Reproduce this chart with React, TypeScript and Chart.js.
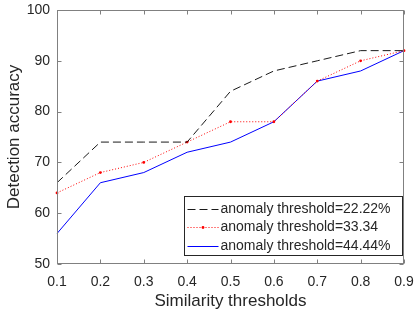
import React, { useEffect, useRef } from 'react';
import { Chart, registerables } from 'chart.js';

Chart.register(...registerables);

const categories = ['0.1', '0.2', '0.3', '0.4', '0.5', '0.6', '0.7', '0.8', '0.9'];
const seriesA = [66, 74, 74, 74, 84, 88, 90, 92, 92];
const seriesB = [64, 68, 70, 74, 78, 78, 86, 90, 92];
const seriesC = [56, 66, 68, 72, 74, 78, 86, 88, 92];
const seriesLabels = ['anomaly threshold=22.22%', 'anomaly threshold=33.34', 'anomaly threshold=44.44%'];
const yMin = 50;
const yMax = 100;
const yStep = 10;
const xTitle = 'Similarity thresholds';
const yTitle = 'Detection accuracy';

const FONT = "'Liberation Sans', Arial, Helvetica, sans-serif";
const TEXT = '#262626';
const FRAME = '#808080';

const framePlugin = {
  id: 'matlabFrame',
  afterDatasetsDraw(chart: any) {
    const { ctx, chartArea, scales } = chart;
    const L = Math.round(chartArea.left) + 0.5;
    const R = Math.round(chartArea.right) - 0.5;
    const T = Math.round(chartArea.top) + 0.5;
    const B = Math.round(chartArea.bottom) - 0.5;
    ctx.save();
    ctx.strokeStyle = FRAME;
    ctx.lineWidth = 1;
    ctx.strokeRect(L, T, R - L, B - T);
    const tl = 4;
    ctx.beginPath();
    scales.x.ticks.forEach((_t: any, i: number) => {
      const px = Math.round(scales.x.getPixelForTick(i)) + 0.5;
      ctx.moveTo(px, B);
      ctx.lineTo(px, B - tl);
      ctx.moveTo(px, T);
      ctx.lineTo(px, T + tl);
    });
    scales.y.ticks.forEach((t: any) => {
      const py = Math.round(scales.y.getPixelForValue(t.value)) + 0.5;
      ctx.moveTo(L, py);
      ctx.lineTo(L + tl, py);
      ctx.moveTo(R, py);
      ctx.lineTo(R - tl, py);
    });
    ctx.stroke();
    ctx.restore();
  },
};

const legendPlugin = {
  id: 'matlabLegend',
  afterDraw(chart: any) {
    const { ctx, chartArea } = chart;
    const w = 218;
    const h = 59;
    const right = Math.round(chartArea.right) - 1.5;
    const bottom = Math.round(chartArea.bottom) - 8.5;
    const left = right - w;
    const top = bottom - h;
    ctx.save();
    ctx.fillStyle = '#ffffff';
    ctx.fillRect(left, top, w, h);
    ctx.strokeStyle = '#262626';
    ctx.lineWidth = 1;
    ctx.strokeRect(left, top, w, h);
    chart.data.datasets.forEach((ds: any, i: number) => {
      const y = Math.round(top + 12 + i * 18.5) + 0.5;
      ctx.beginPath();
      ctx.strokeStyle = ds.borderColor;
      ctx.lineWidth = ds.borderWidth;
      ctx.setLineDash(ds.borderDash || []);
      ctx.moveTo(left + 3, y);
      ctx.lineTo(left + 34, y);
      ctx.stroke();
      ctx.setLineDash([]);
      if (ds.pointRadius > 0) {
        ctx.beginPath();
        ctx.fillStyle = ds.pointBackgroundColor;
        ctx.arc(left + 18.5, y, ds.pointRadius, 0, Math.PI * 2);
        ctx.fill();
      }
      ctx.fillStyle = TEXT;
      ctx.font = `14px ${FONT}`;
      ctx.textBaseline = 'middle';
      ctx.textAlign = 'left';
      ctx.fillText(ds.label, left + 36, y);
    });
    ctx.restore();
  },
};

export default function App() {
  const ref = useRef<HTMLCanvasElement>(null);
  useEffect(() => {
    if (!ref.current) return;
    const chart = new Chart(ref.current, {
      type: 'line',
      data: {
        labels: categories,
        datasets: [
          {
            label: seriesLabels[0],
            data: seriesA,
            borderColor: '#1a1a1a',
            borderWidth: 1,
            borderDash: [8, 4],
            pointRadius: 0,
            fill: false,
            tension: 0,
          },
          {
            label: seriesLabels[1],
            data: seriesB,
            borderColor: '#ff0000',
            borderWidth: 1,
            borderDash: [1, 2],
            pointRadius: 1.4,
            pointBorderWidth: 0,
            pointBackgroundColor: '#ff0000',
            fill: false,
            tension: 0,
          },
          {
            label: seriesLabels[2],
            data: seriesC,
            borderColor: '#0000ff',
            borderWidth: 1,
            pointRadius: 0,
            fill: false,
            tension: 0,
          },
        ],
      },
      options: {
        responsive: false,
        animation: false,
        layout: { padding: { top: 10, right: 11, left: 0, bottom: 0 } },
        plugins: {
          legend: { display: false },
          tooltip: { enabled: false },
        },
        scales: {
          x: {
            type: 'category',
            offset: false,
            grid: { display: false, drawTicks: false },
            border: { display: false },
            ticks: {
              color: TEXT,
              font: { size: 14, family: FONT },
              padding: 10,
              maxRotation: 0,
              autoSkip: false,
            },
            title: {
              display: true,
              text: xTitle,
              color: TEXT,
              font: { size: 17, family: FONT },
              padding: { top: -2, bottom: 0 },
            },
            afterFit: (s: any) => {
              s.height = 48;
              s.paddingLeft = 0;
              s.paddingRight = 0;
            },
          },
          y: {
            min: yMin,
            max: yMax,
            grid: { display: false, drawTicks: false },
            border: { display: false },
            ticks: {
              stepSize: yStep,
              color: TEXT,
              font: { size: 14, family: FONT },
              padding: 7,
            },
            title: {
              display: true,
              text: yTitle,
              color: TEXT,
              font: { size: 17, family: FONT },
              padding: { top: 4, bottom: 0 },
            },
            afterFit: (s: any) => {
              s.width = 57;
              s.paddingTop = 0;
              s.paddingBottom = 0;
            },
          },
        },
      },
      plugins: [framePlugin, legendPlugin],
    } as any);
    return () => chart.destroy();
  }, []);
  return (
    <div style={{ position: 'absolute', left: 0, top: 0, width: 415, height: 312, background: '#fff' }}>
      <canvas ref={ref} width={415} height={312} style={{ display: 'block' }} />
    </div>
  );
}
